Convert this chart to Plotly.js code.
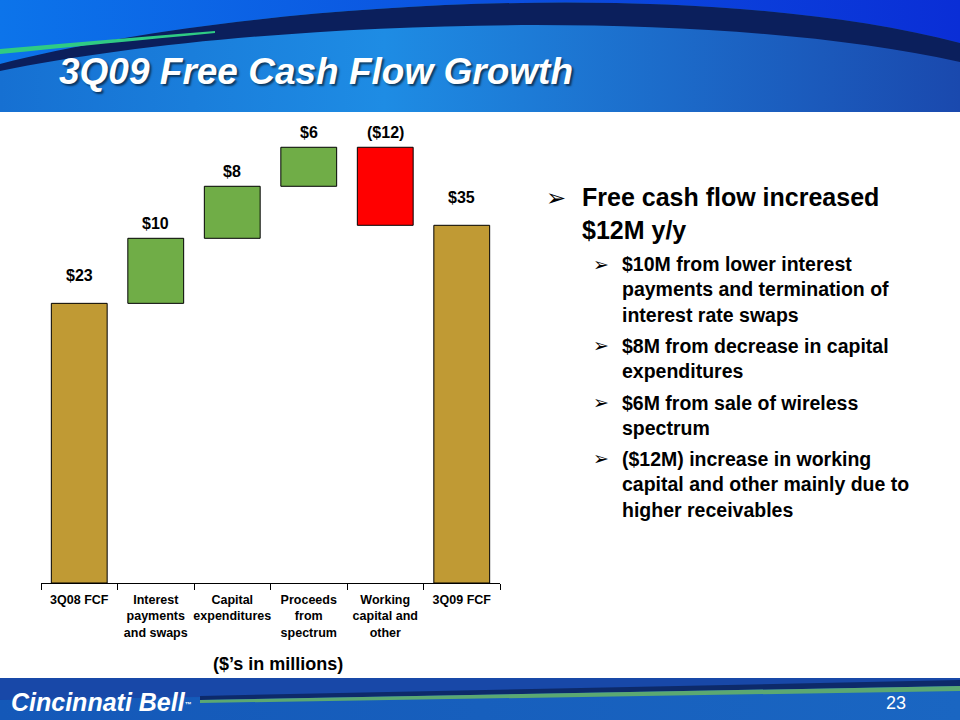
<!DOCTYPE html>
<html>
<head>
<meta charset="utf-8">
<script src="https://cdn.plot.ly/plotly-3.0.1.min.js"></script>
<style>
  body { margin: 0; background: #fff; }
  #slide { position: relative; width: 960px; height: 720px; overflow: hidden; }
  #deco, #chart { position: absolute; left: 0; top: 0; }
</style>
</head>
<body>
<div id="slide">
  <!-- slide header / footer artwork -->
  <svg id="deco" width="960" height="720">
    <defs>
      <linearGradient id="hdrLow" x1="0" y1="0" x2="1" y2="0">
        <stop offset="0" stop-color="#1670D2"/>
        <stop offset="0.4" stop-color="#1E8CE4"/>
        <stop offset="1" stop-color="#1A49AE"/>
      </linearGradient>
      <linearGradient id="hdrHigh" x1="0" y1="0" x2="1" y2="0">
        <stop offset="0" stop-color="#0C74EA"/>
        <stop offset="1" stop-color="#0A2ED6"/>
      </linearGradient>
      <linearGradient id="ftr" x1="0" y1="0" x2="1" y2="0">
        <stop offset="0" stop-color="#1458B8"/>
        <stop offset="1" stop-color="#1A66C2"/>
      </linearGradient>
    </defs>
    <rect x="0" y="0" width="960" height="112" fill="url(#hdrLow)"/>
    <path d="M0,0 L960,0 L960,43 C700,-25 250,0 0,64 Z" fill="url(#hdrHigh)"/>
    <path d="M0,64 C250,0 700,-25 960,43 L960,62 C700,4 250,20 0,71 Z" fill="#0B1F5C"/>
    <path d="M0,49 C70,43 140,37 215,31 L215,33 C140,40 70,47 0,54 Z" fill="#2FCB84"/>
    <rect x="0" y="678" width="960" height="42" fill="url(#ftr)"/>
    <path d="M0,678 L960,678 L960,681 L200,697 L0,700 Z" fill="#1848A8"/>
    <path d="M200,696 L960,680 L960,686 L200,700 Z" fill="#0D2A6A"/>
    <path d="M200,700 L960,686 L960,691 L200,703 Z" fill="#5BA872"/>
  </svg>
  <div id="chart" style="width:960px;height:720px"></div>
</div>
<script>
////////////////// data ////////////////////////
const categories = [
  "3Q08 FCF",
  "Interest<br>payments<br>and swaps",
  "Capital<br>expenditures",
  "Proceeds<br>from<br>spectrum",
  "Working<br>capital and<br>other",
  "3Q09 FCF",
];
const startValue = 23;
const steps = [10, 8, 6, -12];
const endValue = 35;

const bulletMain = "Free cash flow increased<br>$12M y/y";
const bulletSubs = [
  "$10M from lower interest<br>payments and termination of<br>interest rate swaps",
  "$8M from decrease in capital<br>expenditures",
  "$6M from sale of wireless<br>spectrum",
  "($12M) increase in working<br>capital and other mainly due to<br>higher receivables",
];

////////////////// layout constants ////////////////////////
const totalColor = "#C09A34";
const upColor = "#70AD47";
const downColor = "#FF0000";
const yFloor = -20;
const yCeil = 51.5;
const font = "Liberation Sans, Arial, sans-serif";

// plot area in pixels, used to place text in paper coords
const L = 41, R = 500, T = 118, B = 583;
const px2x = (px) => (px - L) / (R - L);
const px2y = (py) => (B - py) / (B - T);

////////////////// waterfall bars ////////////////////////
const bases = [];
const heights = [];
const colors = [];
const tops = [];
const labels = [];
const money = (v) => (v < 0 ? "($" + -v + ")" : "$" + v);

bases.push(yFloor);
heights.push(startValue - yFloor);
colors.push(totalColor);
tops.push(startValue);
labels.push(money(startValue));

let running = startValue;
steps.forEach((s) => {
  bases.push(running);
  heights.push(s);
  colors.push(s >= 0 ? upColor : downColor);
  tops.push(Math.max(running, running + s));
  labels.push(money(s));
  running += s;
});

bases.push(yFloor);
heights.push(endValue - yFloor);
colors.push(totalColor);
tops.push(endValue);
labels.push(money(endValue));

const data = [
  {
    type: "bar",
    x: categories,
    y: heights,
    base: bases,
    width: 0.73,
    marker: { color: colors, line: { color: "#000", width: 1 } },
    hoverinfo: "skip",
    showlegend: false,
  },
];

// value labels above each bar
const annotations = categories.map((c, i) => ({
  x: c,
  y: tops[i],
  xref: "x",
  yref: "y",
  text: labels[i],
  showarrow: false,
  yanchor: "middle",
  yshift: i === 0 || i === categories.length - 1 ? 28 : 15,
  font: { family: font, size: 16, weight: "bold", color: "#000" },
}));

// unit note under the axis
annotations.push({
  x: px2x(278), y: px2y(664), xref: "paper", yref: "paper",
  text: "($\u2019s in millions)", showarrow: false, yanchor: "middle",
  font: { family: font, size: 18, weight: "bold", color: "#000" },
});

// bullet list on the right
function arrow(x, y, size) {
  return {
    x: px2x(x), y: px2y(y), xref: "paper", yref: "paper",
    text: "\u27A2", showarrow: false, xanchor: "left", yanchor: "middle",
    font: { family: "DejaVu Sans", size, color: "#000" },
  };
}
function block(x, y, text, size) {
  return {
    x: px2x(x), y: px2y(y), xref: "paper", yref: "paper",
    text, showarrow: false, xanchor: "left", yanchor: "middle", align: "left",
    font: { family: font, size, weight: "bold", color: "#000" },
  };
}

annotations.push(arrow(544, 198, 24));
annotations.push(block(580, 213, bulletMain, 25));

const subFirst = [264, 345, 402, 458];
const subMid = [289, 358, 415, 484];
bulletSubs.forEach((t, i) => {
  annotations.push(arrow(591, subFirst[i], 19));
  annotations.push(block(620, subMid[i], t, 19.5));
});

// footer text
annotations.push({
  x: px2x(9), y: px2y(702), xref: "paper", yref: "paper",
  text: "Cincinnati Bell<span style='font-size:10px'><sup>\u2122</sup></span>",
  showarrow: false, xanchor: "left", yanchor: "middle",
  font: { family: font, size: 25, weight: "bold", style: "italic", color: "#fff" },
});
annotations.push({
  x: px2x(908), y: px2y(703), xref: "paper", yref: "paper",
  text: "23", showarrow: false, yanchor: "middle",
  font: { family: font, size: 18, color: "#fff" },
});

const layout = {
  width: 960,
  height: 720,
  margin: { l: L, r: 960 - R, t: T, b: 720 - B },
  paper_bgcolor: "rgba(0,0,0,0)",
  plot_bgcolor: "rgba(0,0,0,0)",
  title: {
    text: "3Q09 Free Cash Flow Growth",
    xref: "container", yref: "container",
    x: 59 / 960, y: 1 - 71 / 720,
    xanchor: "left", yanchor: "middle",
    font: {
      family: font, size: 37, weight: "bold", style: "italic", color: "#fff",
      shadow: "2px 2px 2px rgba(0,0,0,0.55)",
    },
  },
  xaxis: {
    type: "category",
    showgrid: false,
    showline: true,
    linecolor: "#000",
    linewidth: 1,
    ticks: "outside",
    tickson: "boundaries",
    ticklen: 6,
    tickcolor: "#000",
    tickangle: 0,
    ticklabelstandoff: 5,
    tickfont: { family: font, size: 12.5, weight: "bold", color: "#000" },
    fixedrange: true,
  },
  yaxis: {
    visible: false,
    range: [yFloor, yCeil],
    showgrid: false,
    zeroline: false,
    fixedrange: true,
  },
  annotations,
};

Plotly.newPlot("chart", data, layout, { displayModeBar: false, staticPlot: true });
</script>
</body>
</html>
